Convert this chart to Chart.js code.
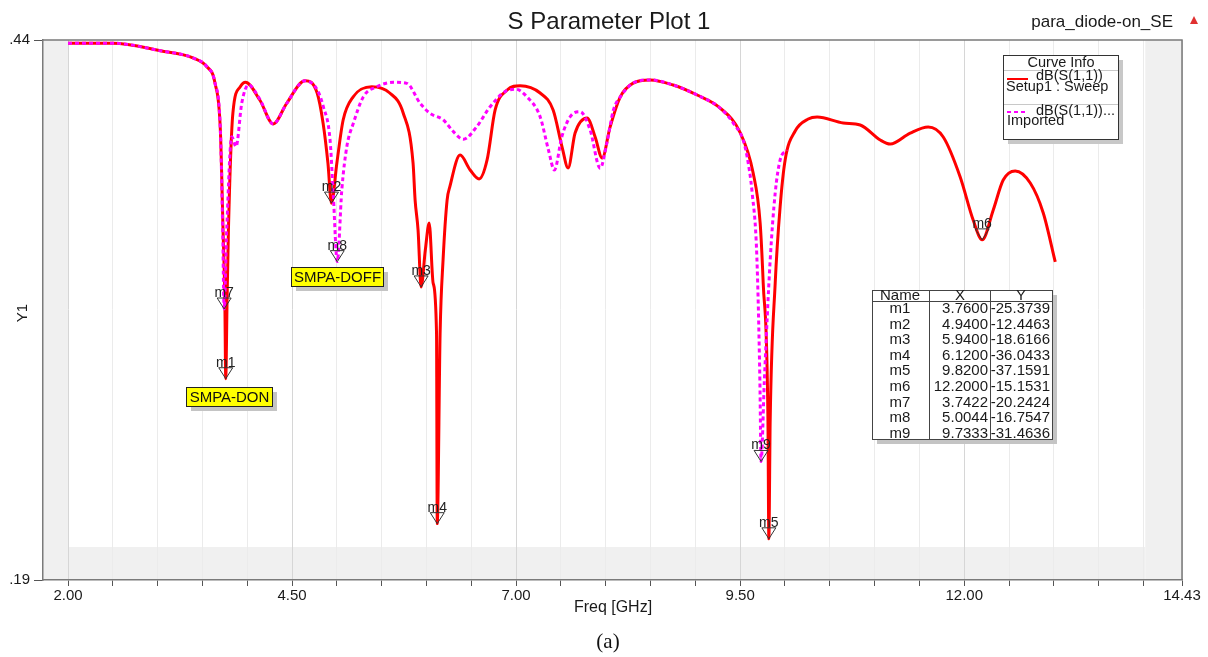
<!DOCTYPE html>
<html>
<head>
<meta charset="utf-8">
<title>S Parameter Plot 1</title>
<script src="https://cdn.jsdelivr.net/npm/chart.js@4.4.1/dist/chart.umd.min.js"></script>
<style>
  html, body { margin: 0; padding: 0; background: #fff; }
  #wrap { width: 1208px; height: 657px; }
</style>
</head>
<body>
<div id="wrap"><canvas id="plot" width="1208" height="657"></canvas></div>
<script>
// Setup1 : Sweep  (solid red), frequency in GHz, dB(S(1,1))
const setupFreq = [
  2.00, 2.50, 3.03, 3.40, 3.55, 3.64, 3.70, 3.73, 3.75, 3.76, 3.775, 3.79, 3.84, 3.92, 3.98,
  4.14, 4.29, 4.44, 4.645, 4.78, 4.846, 4.90, 4.94, 5.00, 5.07, 5.18, 5.39, 5.59, 5.74, 5.85,
  5.873, 5.906, 5.94, 5.987, 6.03, 6.074, 6.112, 6.12, 6.152, 6.185, 6.23, 6.26, 6.375, 6.487,
  6.587, 6.676, 6.766, 6.90, 7.045, 7.268, 7.413, 7.513, 7.58, 7.658, 7.792, 7.882, 7.96, 8.049,
  8.161, 8.306, 8.496, 8.752, 9.02, 9.277, 9.50, 9.645, 9.723, 9.757, 9.81, 9.82, 9.835, 9.891,
  9.946, 10.002, 10.114, 10.259, 10.359, 10.65, 10.839, 11.063, 11.174, 11.397, 11.598, 11.766,
  11.955, 12.10, 12.20, 12.324, 12.435, 12.569, 12.737, 12.882, 13.016
];
const setupDb = [
  -0.68, -0.68, -1.23, -1.77, -2.41, -3.61, -7.07, -14.43, -19.58, -25.37, -19.58, -14.43, -5.81, -3.90, -3.55,
  -4.86, -6.62, -5.10, -3.44, -4.34, -6.55, -9.49, -12.45, -9.49, -6.33, -4.64, -3.88, -4.34, -5.81, -9.49,
  -12.22, -14.43, -18.62, -15.90, -13.91, -18.33, -22.0, -36.04, -22.0, -16.63, -12.22, -11.26, -8.91, -10.01,
  -10.67, -9.27, -5.59, -4.12, -3.80, -4.34, -5.59, -8.32, -9.86, -7.29, -6.18, -7.58, -9.13, -6.84,
  -4.64, -3.61, -3.38, -3.75, -4.49, -5.45, -7.25, -10.23, -13.91, -18.33, -28.41, -37.16, -28.41, -18.33,
  -12.71, -9.27, -7.14, -6.26, -6.11, -6.55, -6.70, -7.80, -8.10, -7.29, -6.84, -7.58,
  -10.52, -13.69, -15.15, -12.95, -10.75, -10.08, -10.97, -13.17, -16.78
];

// Imported (dotted magenta)
const importFreq = [
  2.00, 2.50, 3.03, 3.40, 3.55, 3.64, 3.70, 3.725, 3.7422, 3.771, 3.827, 3.875, 3.939, 4.012,
  4.14, 4.29, 4.44, 4.645, 4.78, 4.849, 4.924, 4.961, 5.0044, 5.055, 5.111, 5.184, 5.296, 5.445,
  5.631, 5.78, 5.929, 6.04, 6.189, 6.30, 6.412, 6.561, 6.71, 6.896, 7.00, 7.119, 7.268, 7.361,
  7.427, 7.51, 7.603, 7.714, 7.826, 7.938, 8.012, 8.086, 8.161, 8.306, 8.496, 8.752, 9.02, 9.277,
  9.425, 9.533, 9.578, 9.634, 9.686, 9.72, 9.7333, 9.77, 9.835, 9.891, 9.946, 10.02
];
const importDb = [
  -0.68, -0.68, -1.23, -1.77, -2.41, -3.61, -7.07, -14.0, -20.24, -14.43, -7.56, -8.29, -5.08, -3.75,
  -4.80, -6.62, -5.10, -3.44, -4.10, -5.35, -7.80, -11.97, -16.75, -11.48, -8.29, -6.57, -4.61, -3.88,
  -3.55, -3.63, -5.10, -5.84, -6.33, -7.19, -7.75, -6.82, -5.35, -4.17, -4.07, -4.61, -6.09, -8.54,
  -10.01, -7.56, -6.09, -5.72, -7.06, -9.88, -8.04, -5.59, -4.64, -3.61, -3.38, -3.75, -4.49, -5.45,
  -6.57, -7.80, -9.05, -11.70, -16.39, -25.5, -31.46, -25.5, -16.63, -11.70, -9.27, -8.54
];

// markers m1..m9
const markerNames = ['m1', 'm2', 'm3', 'm4', 'm5', 'm6', 'm7', 'm8', 'm9'];
const markerFreq = [3.76, 4.94, 5.94, 6.12, 9.82, 12.2, 3.7422, 5.0044, 9.7333];
const markerDb = [-25.3739, -12.4463, -18.6166, -36.0433, -37.1591, -15.1531, -20.2424, -16.7547, -31.4636];

// axis ticks
const xLabelValues = [2.0, 4.5, 7.0, 9.5, 12.0, 14.43];
const xTickLabels = ['2.00', '4.50', '7.00', '9.50', '12.00', '14.43'];
const yTickValues = [-0.44, -40.19];
const yTickLabels = ['.44', '.19'];

const X_MIN = 1.721, X_MAX = 14.43;
const Y_MIN = -40.19, Y_MAX = -0.44;
// grey margin bands of the plot
const SHADE_X_MIN = 2.0, SHADE_X_MAX = 14.02, SHADE_Y_MIN = -37.76;

const FONT = '"Liberation Sans", Arial, sans-serif';
Chart.defaults.font.family = FONT;

function text(ctx, str, x, y, font, align, color) {
  ctx.font = font;
  ctx.textAlign = align || 'left';
  ctx.textBaseline = 'alphabetic';
  ctx.fillStyle = color || '#1a1a1a';
  ctx.fillText(str, x, y);
}

function isLabelled(v) {
  return xLabelValues.findIndex(l => Math.abs(l - v) < 1e-6);
}

const shadePlugin = {
  id: 'shade',
  beforeDraw(chart) {
    const { ctx, chartArea: a, scales: { x, y } } = chart;
    const x0 = x.getPixelForValue(SHADE_X_MIN);
    const x1 = x.getPixelForValue(SHADE_X_MAX);
    const yb = y.getPixelForValue(SHADE_Y_MIN);
    ctx.save();
    ctx.fillStyle = '#f0f0f0';
    ctx.fillRect(a.left, a.top, x0 - a.left, a.bottom - a.top);
    ctx.fillRect(x1, a.top, a.right - x1, a.bottom - a.top);
    ctx.fillRect(x0, yb, x1 - x0, a.bottom - yb);
    ctx.restore();
  },
  beforeDatasetsDraw(chart) {
    const { ctx, chartArea: a } = chart;
    ctx.save();
    ctx.strokeStyle = '#7a7a7a';
    ctx.lineWidth = 1.5;
    ctx.beginPath();
    ctx.moveTo(a.left, a.top);
    ctx.lineTo(a.right, a.top);
    ctx.lineTo(a.right, a.bottom);
    ctx.stroke();
    ctx.restore();
  }
};

const decorPlugin = {
  id: 'decor',
  afterDraw(chart) {
    const { ctx, scales: { x, y } } = chart;
    ctx.save();

    // titles
    text(ctx, 'S Parameter Plot 1', 609, 29, '24px ' + FONT, 'center', '#1a1a1a');
    text(ctx, 'para_diode-on_SE', 1173, 27, '17px ' + FONT, 'right', '#1a1a1a');
    ctx.fillStyle = '#e03030';
    ctx.beginPath();
    ctx.moveTo(1194, 16); ctx.lineTo(1198, 24); ctx.lineTo(1190, 24); ctx.closePath();
    ctx.fill();
    text(ctx, 'Freq [GHz]', 613, 612, '16px ' + FONT, 'center', '#1a1a1a');
    text(ctx, '(a)', 608, 648, '21px "Liberation Serif", "Times New Roman", serif', 'center', '#111');
    ctx.save();
    ctx.translate(27, 313);
    ctx.rotate(-Math.PI / 2);
    text(ctx, 'Y1', 0, 0, '15px ' + FONT, 'center', '#1a1a1a');
    ctx.restore();

    // markers
    markerNames.forEach((name, i) => {
      const px = x.getPixelForValue(markerFreq[i]);
      const py = y.getPixelForValue(markerDb[i]);
      ctx.strokeStyle = '#333';
      ctx.lineWidth = 1;
      ctx.beginPath();
      ctx.moveTo(px - 7, py - 11);
      ctx.lineTo(px + 7, py - 11);
      ctx.lineTo(px, py);
      ctx.closePath();
      ctx.stroke();
      text(ctx, name, px, py - 12, '14px ' + FONT, 'center', '#222');
    });

    // yellow state labels
    const tag = (str, l, t, w, h) => {
      ctx.fillStyle = '#c4c4c4';
      ctx.fillRect(l + 5, t + 5, w, h);
      ctx.fillStyle = '#ffff00';
      ctx.fillRect(l, t, w, h);
      ctx.strokeStyle = '#222';
      ctx.lineWidth = 1;
      ctx.strokeRect(l + 0.5, t + 0.5, w, h);
      text(ctx, str, l + w / 2 + 0.5, t + h - 4, '15px ' + FONT, 'center', '#111');
    };
    tag('SMPA-DON', 186, 387, 86, 19);
    tag('SMPA-DOFF', 291, 267, 92, 19);

    // curve info legend
    ctx.fillStyle = '#c8c8c8';
    ctx.fillRect(1008, 60, 115, 84);
    ctx.fillStyle = '#fff';
    ctx.fillRect(1003, 55, 115, 84);
    ctx.strokeStyle = '#333';
    ctx.lineWidth = 1;
    ctx.strokeRect(1003.5, 55.5, 115, 84);
    ctx.strokeStyle = '#c8c8c8';
    ctx.beginPath();
    ctx.moveTo(1004, 70.5); ctx.lineTo(1118, 70.5);
    ctx.moveTo(1004, 104.5); ctx.lineTo(1118, 104.5);
    ctx.stroke();
    const lf = '14.5px ' + FONT;
    text(ctx, 'Curve Info', 1061, 67, lf, 'center', '#1a1a1a');
    ctx.strokeStyle = '#ff0000';
    ctx.lineWidth = 2;
    ctx.beginPath(); ctx.moveTo(1007, 79); ctx.lineTo(1028, 79); ctx.stroke();
    ctx.strokeStyle = '#ff00ff';
    ctx.setLineDash([4, 3]);
    ctx.beginPath(); ctx.moveTo(1007, 112); ctx.lineTo(1028, 112); ctx.stroke();
    ctx.setLineDash([]);
    text(ctx, 'dB(S(1,1))', 1036, 80, lf, 'left', '#1a1a1a');
    text(ctx, 'Setup1 : Sweep', 1006, 91, lf, 'left', '#1a1a1a');
    text(ctx, 'dB(S(1,1))...', 1036, 115, lf, 'left', '#1a1a1a');
    text(ctx, 'Imported', 1007, 125, lf, 'left', '#1a1a1a');

    // marker table
    const tl = 872, tt = 290, tw = 180, th = 149;
    ctx.fillStyle = '#c4c4c4';
    ctx.fillRect(tl + 5, tt + 5, tw, th);
    ctx.fillStyle = '#fff';
    ctx.fillRect(tl, tt, tw, th);
    ctx.strokeStyle = '#444';
    ctx.lineWidth = 1;
    ctx.strokeRect(tl + 0.5, tt + 0.5, tw, th);
    ctx.beginPath();
    ctx.moveTo(tl, 301.5); ctx.lineTo(tl + tw, 301.5);
    ctx.moveTo(929.5, tt); ctx.lineTo(929.5, tt + th);
    ctx.moveTo(990.5, tt); ctx.lineTo(990.5, tt + th);
    ctx.stroke();
    const tf = '15px ' + FONT;
    text(ctx, 'Name', 900, 300, tf, 'center', '#1a1a1a');
    text(ctx, 'X', 960, 300, tf, 'center', '#1a1a1a');
    text(ctx, 'Y', 1021, 300, tf, 'center', '#1a1a1a');
    markerNames.forEach((name, i) => {
      const by = 313 + i * 15.6;
      text(ctx, name, 900, by, tf, 'center', '#1a1a1a');
      text(ctx, markerFreq[i].toFixed(4), 988, by, tf, 'right', '#1a1a1a');
      text(ctx, markerDb[i].toFixed(4), 1050, by, tf, 'right', '#1a1a1a');
    });

    ctx.restore();
  }
};

const xTicks = [];
for (let v = 2.0; v <= 14.0 + 1e-9; v += 0.5) xTicks.push(Math.round(v * 10) / 10);
xTicks.push(14.43);

new Chart(document.getElementById('plot'), {
  type: 'line',
  data: {
    datasets: [{
      label: 'dB(S(1,1)) Setup1 : Sweep',
      data: setupFreq.map((f, i) => ({ x: f, y: setupDb[i] })),
      borderColor: '#ff0000',
      borderWidth: 3,
      pointRadius: 0,
      cubicInterpolationMode: 'monotone',
      order: 2
    }, {
      label: 'dB(S(1,1))... Imported',
      data: importFreq.map((f, i) => ({ x: f, y: importDb[i] })),
      borderColor: '#ff00ff',
      borderWidth: 3,
      borderDash: [4, 3],
      pointRadius: 0,
      cubicInterpolationMode: 'monotone',
      order: 1
    }]
  },
  options: {
    responsive: false,
    animation: false,
    devicePixelRatio: 1,
    layout: { padding: { top: 40, right: 26, left: 0, bottom: 0 } },
    plugins: { legend: { display: false }, tooltip: { enabled: false }, title: { display: false } },
    scales: {
      x: {
        type: 'linear',
        min: X_MIN,
        max: X_MAX,
        afterBuildTicks: scale => { scale.ticks = xTicks.map(v => ({ value: v })); },
        afterFit: scale => { scale.height = 77; },
        ticks: {
          autoSkip: false,
          maxRotation: 0,
          minRotation: 0,
          padding: 1,
          color: '#1a1a1a',
          font: { size: 15 },
          callback: v => { const i = isLabelled(v); return i >= 0 ? xTickLabels[i] : ''; }
        },
        grid: {
          color: c => (c.tick && isLabelled(c.tick.value) >= 0 ? '#d6d6d6' : '#ebebeb'),
          lineWidth: 1,
          tickLength: 6,
          tickColor: '#555'
        },
        border: { color: '#7a7a7a', width: 1.5 }
      },
      y: {
        type: 'linear',
        min: Y_MIN,
        max: Y_MAX,
        afterBuildTicks: scale => { scale.ticks = yTickValues.map(v => ({ value: v })); },
        afterFit: scale => { scale.width = 43; },
        ticks: {
          padding: 4,
          color: '#1a1a1a',
          font: { size: 15 },
          callback: v => { const i = yTickValues.findIndex(t => Math.abs(t - v) < 1e-6); return i >= 0 ? yTickLabels[i] : ''; }
        },
        grid: { drawOnChartArea: false, tickLength: 9, tickColor: '#555' },
        border: { color: '#7a7a7a', width: 1.5 }
      }
    }
  },
  plugins: [shadePlugin, decorPlugin]
});
</script>
</body>
</html>
